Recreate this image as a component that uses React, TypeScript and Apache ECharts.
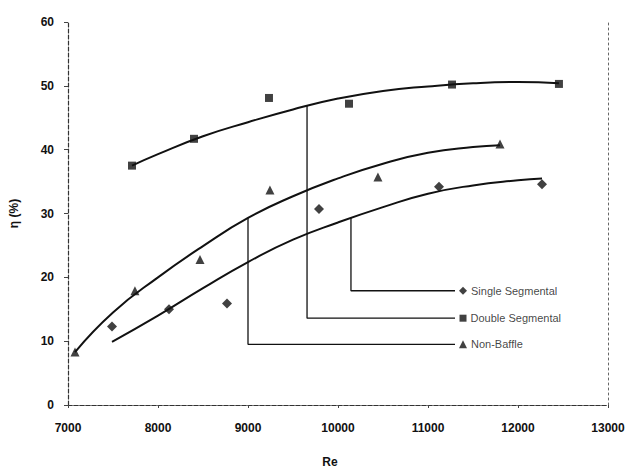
import React, { useEffect, useRef } from "react";
import * as echarts from "echarts";

// Measured points [Re, efficiency %]
const singleSegmental: [number, number][] = [
  [7489, 12.3], [8122, 15.0], [8767, 15.9], [9789, 30.7], [11122, 34.2], [12267, 34.6],
];
const doubleSegmental: [number, number][] = [
  [7711, 37.5], [8400, 41.7], [9233, 48.1], [10122, 47.2], [11267, 50.2], [12455, 50.3],
];
const nonBaffle: [number, number][] = [
  [7078, 8.3], [7744, 17.9], [8467, 22.8], [9244, 33.7], [10444, 35.7], [11800, 40.9],
];

// Trend curves
const singleTrend: [number, number][] = [
  [7489, 9.9], [8000, 14.0], [8500, 18.3], [9000, 22.4], [9500, 25.9], [10000, 28.6],
  [10500, 31.0], [11000, 33.1], [11500, 34.4], [12000, 35.2], [12267, 35.5],
];
const doubleTrend: [number, number][] = [
  [7711, 37.5], [8000, 39.3], [8500, 42.1], [9000, 44.3], [9500, 46.3], [10000, 48.0],
  [10500, 49.2], [11000, 49.9], [11500, 50.4], [12000, 50.6], [12455, 50.4],
];
const nonBaffleTrend: [number, number][] = [
  [7078, 8.3], [7500, 14.5], [8000, 20.0], [8500, 24.9], [9000, 29.3], [9500, 32.7],
  [10000, 35.5], [10500, 37.8], [11000, 39.5], [11500, 40.4], [11800, 40.7],
];

// Legend leader lines (data coordinates)
const singleLeader: [number, number][] = [[10144, 29.3], [10144, 17.9], [11300, 17.9]];
const doubleLeader: [number, number][] = [[9656, 46.9], [9656, 13.6], [11300, 13.6]];
const nonBaffleLeader: [number, number][] = [[9000, 29.3], [9000, 9.5], [11300, 9.5]];

const legendNames = ["Single Segmental", "Double Segmental", "Non-Baffle"];
const legendAnchors: [number, number][] = [[11389, 17.9], [11389, 13.6], [11389, 9.5]];

const xTicks = { min: 7000, max: 13000, interval: 1000 };
const yTicks = { min: 0, max: 60, interval: 10 };

const FONT = "'Liberation Sans', Arial, sans-serif";
const INK = "#111";

export default function App() {
  const ref = useRef<HTMLDivElement>(null);
  useEffect(() => {
    if (!ref.current) return;
    const chart = echarts.init(ref.current, undefined, { renderer: "svg" });
    const dashedBox = { show: true, lineStyle: { color: "#333", width: 1.2, type: [4, 2] as any } };
    const trend = (data: [number, number][]) => ({
      type: "line",
      data,
      smooth: 0.5,
      showSymbol: false,
      symbol: "none",
      lineStyle: { color: INK, width: 2 },
      silent: true,
      z: 2,
    });
    const leader = (data: [number, number][]) => ({
      type: "line",
      data,
      smooth: false,
      showSymbol: false,
      symbol: "none",
      lineStyle: { color: INK, width: 1.3 },
      silent: true,
      z: 1,
    });
    const pts = (data: [number, number][], symbol: string, size: number) => ({
      type: "scatter",
      data,
      symbol,
      symbolSize: size,
      itemStyle: { color: INK },
      silent: true,
      z: 3,
    });
    const legendSymbols = ["diamond", "rect", "triangle"];
    const legendSizes = [8, 7, 8];
    chart.setOption({
      animation: false,
      backgroundColor: "#fff",
      textStyle: { fontFamily: FONT },
      grid: { left: 68, right: 22, top: 22, bottom: 62, containLabel: false },
      xAxis: [
        {
          type: "value",
          ...xTicks,
          name: "Re",
          nameLocation: "middle",
          nameGap: 51,
          nameTextStyle: { fontSize: 12, color: INK, fontFamily: FONT, fontWeight: "bold", padding: [0, 16, 0, 0] },
          axisLine: dashedBox,
          axisTick: { show: true, length: 3, lineStyle: { color: "#444" } },
          axisLabel: { fontSize: 12, color: INK, margin: 17, fontFamily: FONT, fontWeight: "bold", formatter: (v: number) => String(v) },
          splitLine: { show: false },
        },
        {
          type: "value",
          position: "top",
          ...xTicks,
          axisLine: dashedBox,
          axisTick: { show: false },
          axisLabel: { show: false },
          splitLine: { show: false },
        },
      ],
      yAxis: [
        {
          type: "value",
          ...yTicks,
          name: "η (%)",
          nameLocation: "middle",
          nameGap: 48,
          nameRotate: 90,
          nameTextStyle: { fontSize: 12, color: INK, fontFamily: FONT, fontWeight: "bold" },
          axisLine: dashedBox,
          axisTick: { show: true, length: 4, lineStyle: { color: "#444" } },
          axisLabel: { fontSize: 12, color: INK, margin: 14, fontFamily: FONT, fontWeight: "bold" },
          splitLine: { show: false },
        },
        {
          type: "value",
          position: "right",
          ...yTicks,
          axisLine: { show: true, lineStyle: { color: "#666", width: 1, type: [2, 3] as any } },
          axisTick: { show: false },
          axisLabel: { show: false },
          splitLine: { show: false },
        },
      ],
      series: [
        trend(singleTrend),
        trend(doubleTrend),
        trend(nonBaffleTrend),
        leader(singleLeader),
        leader(doubleLeader),
        leader(nonBaffleLeader),
        pts(singleSegmental, "diamond", 10),
        pts(doubleSegmental, "rect", 8),
        pts(nonBaffle, "triangle", 9),
        ...legendAnchors.map((a, i) => ({
          type: "scatter",
          data: [a],
          symbol: legendSymbols[i],
          symbolSize: legendSizes[i],
          itemStyle: { color: INK },
          silent: true,
          z: 3,
          label: {
            show: true,
            position: "right",
            distance: 4,
            formatter: legendNames[i],
            fontSize: 11,
            color: INK,
            fontFamily: FONT,
          },
        })),
      ],
    });
    return () => chart.dispose();
  }, []);
  return (
    <div
      ref={ref}
      style={{ position: "fixed", left: 0, top: 0, width: 630, height: 473, background: "#fff" }}
    />
  );
}
